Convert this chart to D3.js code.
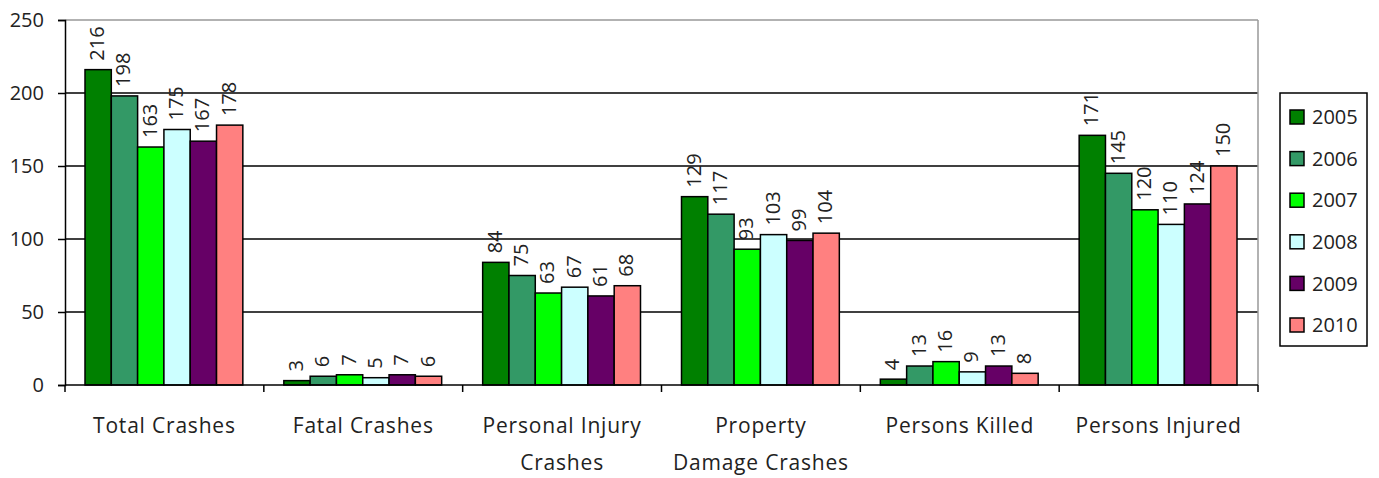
<!DOCTYPE html>
<html>
<head>
<meta charset="utf-8">
<script src="https://cdn.jsdelivr.net/npm/d3@7"></script>
<style>
  body { margin: 0; background: #fff; }
  text { font-family: "Open Sans", "Lato", sans-serif; fill: #222; }
</style>
</head>
<body>
<svg id="plot"></svg>
<script>
// Data
const categories = [["Total Crashes"], ["Fatal Crashes"], ["Personal Injury", "Crashes"],
                    ["Property", "Damage Crashes"], ["Persons Killed"], ["Persons Injured"]];
const years = ["2005", "2006", "2007", "2008", "2009", "2010"];
const colors = ["#008000", "#339966", "#00ff00", "#ccffff", "#660066", "#ff8080"];
const v2005 = [216, 3, 84, 129, 4, 171];
const v2006 = [198, 6, 75, 117, 13, 145];
const v2007 = [163, 7, 63, 93, 16, 120];
const v2008 = [175, 5, 67, 103, 9, 110];
const v2009 = [167, 7, 61, 99, 13, 124];
const v2010 = [178, 6, 68, 104, 8, 150];
const series = [v2005, v2006, v2007, v2008, v2009, v2010];
const yTicks = [0, 50, 100, 150, 200, 250];

const W = 1379, H = 478;
const margin = { top: 20, right: 121, bottom: 93, left: 65 };
const width = W - margin.left - margin.right;
const height = H - margin.top - margin.bottom;

const svg = d3.select("#plot").attr("width", W).attr("height", H);
const g = svg.append("g").attr("transform", `translate(${margin.left},${margin.top})`);

const x0 = d3.scaleBand().domain(d3.range(categories.length)).range([0, width]);
const x1 = d3.scaleBand().domain(years).range([20, x0.bandwidth() - 21]);
const y = d3.scaleLinear().domain([0, 250]).range([height, 0]);

// gridlines
g.selectAll(".grid").data(yTicks.filter(t => t > 0 && t < 250)).enter().append("line")
  .attr("x1", 0).attr("x2", width)
  .attr("y1", d => y(d)).attr("y2", d => y(d))
  .attr("stroke", "#000").attr("stroke-width", 1.5);
// top and right frame
g.append("line").attr("x1", 0).attr("x2", width).attr("y1", y(250)).attr("y2", y(250))
  .attr("stroke", "#999").attr("stroke-width", 1.5);
g.append("line").attr("x1", width).attr("x2", width).attr("y1", 0).attr("y2", height)
  .attr("stroke", "#999").attr("stroke-width", 1.5);

// bars
const groups = g.selectAll(".grp").data(categories).enter().append("g")
  .attr("transform", (d, i) => `translate(${x0(i)},0)`);
groups.each(function(c, i) {
  const sel = d3.select(this);
  const vals = years.map((yr, k) => ({ yr, k, v: series[k][i] }));
  sel.selectAll("rect").data(vals).enter().append("rect")
    .attr("x", d => x1(d.yr))
    .attr("width", x1.bandwidth())
    .attr("y", d => y(d.v))
    .attr("height", d => y(0) - y(d.v))
    .attr("fill", d => colors[d.k])
    .attr("stroke", "#000").attr("stroke-width", 1.5);
  sel.selectAll(".val").data(vals).enter().append("text")
    .attr("transform", d => `translate(${x1(d.yr) + x1.bandwidth() / 2 + 6},${y(d.v) - 9}) rotate(-90)`)
    .attr("text-anchor", "start")
    .style("font-size", "20px")
    .text(d => d.v);
});

// y axis
const yAxis = g.append("g").call(d3.axisLeft(y).tickValues(yTicks).tickSize(7).tickPadding(14));
yAxis.select(".domain").attr("stroke", "#000").attr("stroke-width", 1.5);
yAxis.selectAll(".tick line").attr("stroke", "#000").attr("stroke-width", 1.5);
yAxis.selectAll("text").style("font-size", "20px").attr("fill", "#222")
  .style("font-family", "'Open Sans', sans-serif");

// x axis
g.append("line").attr("x1", 0).attr("x2", width).attr("y1", height).attr("y2", height)
  .attr("stroke", "#000").attr("stroke-width", 1.5);
g.selectAll(".xtick").data(d3.range(categories.length + 1)).enter().append("line")
  .attr("x1", d => d * x0.bandwidth()).attr("x2", d => d * x0.bandwidth())
  .attr("y1", height).attr("y2", height + 7)
  .attr("stroke", "#000").attr("stroke-width", 1.5);

// category labels
categories.forEach((lines, i) => {
  const t = g.append("text")
    .attr("x", x0(i) + x0.bandwidth() / 2)
    .attr("y", height + 48)
    .attr("text-anchor", "middle")
    .style("font-size", "21px")
    .style("letter-spacing", "0.8px");
  lines.forEach((ln, j) => {
    t.append("tspan").attr("x", x0(i) + x0.bandwidth() / 2).attr("dy", j === 0 ? 0 : 37).text(ln);
  });
});

// legend
const legend = svg.append("g").attr("transform", "translate(1280,93)");
legend.append("rect").attr("width", 87).attr("height", 253)
  .attr("fill", "#fff").attr("stroke", "#000").attr("stroke-width", 1.5);
years.forEach((yr, k) => {
  const row = legend.append("g").attr("transform", `translate(10,${24 + k * 41.6})`);
  row.append("rect").attr("x", 0).attr("y", -7).attr("width", 14).attr("height", 14)
    .attr("fill", colors[k]).attr("stroke", "#000").attr("stroke-width", 1.5);
  row.append("text").attr("x", 22).attr("y", 0).attr("dy", "0.36em")
    .style("font-size", "20px").text(yr);
});
</script>
</body>
</html>
